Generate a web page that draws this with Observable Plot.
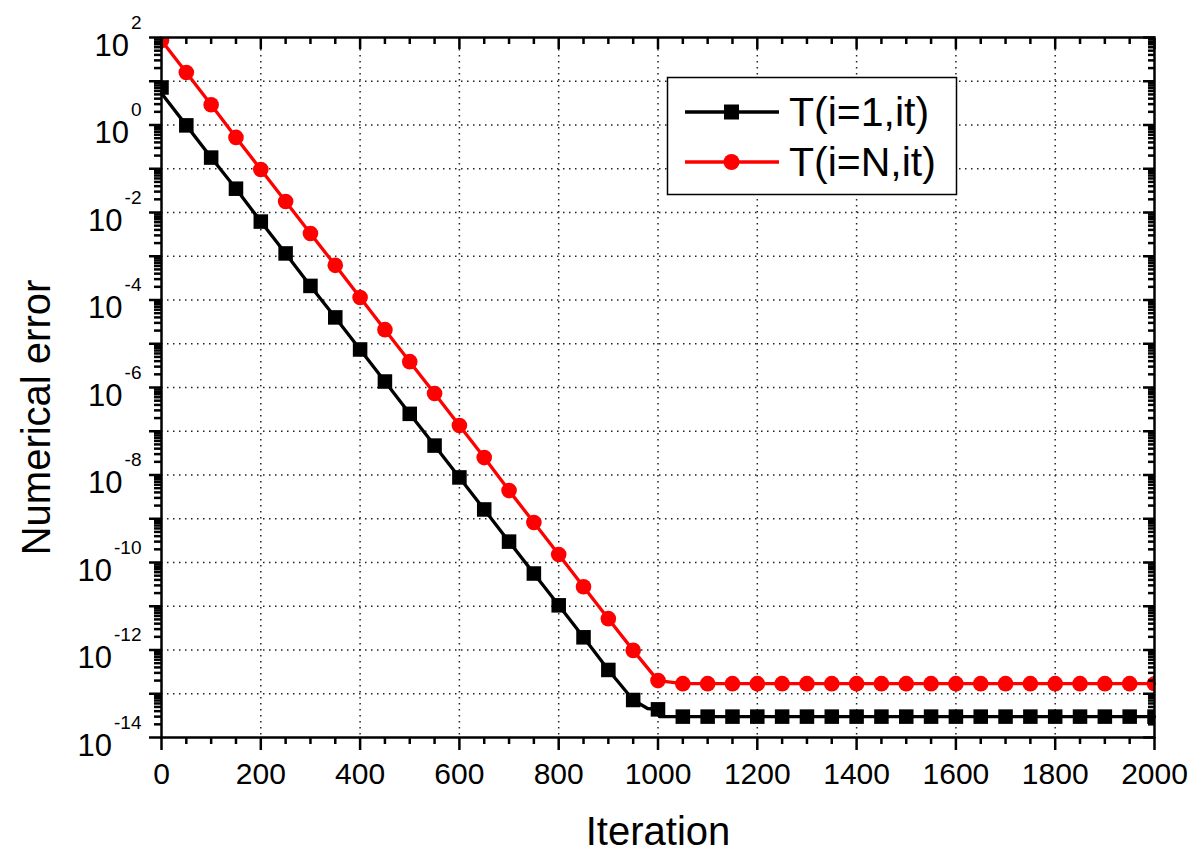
<!DOCTYPE html>
<html><head><meta charset="utf-8">
<script src="https://cdn.jsdelivr.net/npm/d3@7"></script>
<script src="https://cdn.jsdelivr.net/npm/@observablehq/plot@0.6"></script>
<style>
html,body{margin:0;padding:0;background:#fff;overflow:hidden}
#wrap{position:relative;width:1199px;height:851px}
#overlay{position:absolute;left:0;top:0;pointer-events:none}
</style></head><body><div id="wrap"></div>
<script>
// ---- data ----
const iterations = [0,50,100,150,200,250,300,350,400,450,500,550,600,650,700,750,800,850,900,950,1000,
  1050,1100,1150,1200,1250,1300,1350,1400,1450,1500,1550,1600,1650,1700,1750,1800,1850,1900,1950,2000];
const seriesNames = ["T(i=1,it)", "T(i=N,it)"];
const errorI1 = [7.2, 9.8e-1, 1.8e-1, 3.5e-2, 6.2e-3, 1.16e-3, 2.1e-4, 4.0e-5, 7.4e-6, 1.37e-6, 2.5e-7,
  4.7e-8, 8.8e-9, 1.63e-9, 3.0e-10, 5.6e-11, 1.05e-11, 1.95e-12, 3.5e-13, 7.2e-14, 4.4e-14,
  3.0e-14, 3.0e-14, 3.0e-14, 3.0e-14, 3.0e-14, 3.0e-14, 3.0e-14, 3.0e-14, 3.0e-14, 3.0e-14,
  3.0e-14, 3.0e-14, 3.0e-14, 3.0e-14, 3.0e-14, 3.0e-14, 3.0e-14, 3.0e-14, 3.0e-14, 3.0e-14];
const errorIN = [85, 15.8, 2.9, 5.2e-1, 9.6e-2, 1.78e-2, 3.3e-3, 6.2e-4, 1.14e-4, 2.1e-5, 3.9e-6,
  7.3e-7, 1.35e-7, 2.5e-8, 4.4e-9, 8.2e-10, 1.52e-10, 2.8e-11, 5.2e-12, 9.8e-13, 2.0e-13,
  1.7e-13, 1.7e-13, 1.7e-13, 1.7e-13, 1.7e-13, 1.7e-13, 1.7e-13, 1.7e-13, 1.7e-13, 1.7e-13,
  1.7e-13, 1.7e-13, 1.7e-13, 1.7e-13, 1.7e-13, 1.7e-13, 1.7e-13, 1.7e-13, 1.7e-13, 1.7e-13];
// extra line-only samples of T(i=1,it) (start and knee of the curve)
const extraLineIterations = [0, 979, 1003];
const extraLineErrors = [5.3, 4.6e-14, 3.0e-14];
const xTickLabels = [0,200,400,600,800,1000,1200,1400,1600,1800,2000];
const xMinorTicks = [50,100,150,250,300,350,450,500,550,650,700,750,850,900,950,1050,1100,1150,
  1250,1300,1350,1450,1500,1550,1650,1700,1750,1850,1900,1950];
const yTickExponents = [2,0,-2,-4,-6,-8,-10,-12,-14];
const yDecadeExponents = [2,1,0,-1,-2,-3,-4,-5,-6,-7,-8,-9,-10,-11,-12,-13,-14];
const xAxisTitle = "Iteration";
const yAxisTitle = "Numerical error";

// ---- derived tables ----
const dataI1 = iterations.map((it, i) => ({it, err: errorI1[i]}));
const dataIN = iterations.map((it, i) => ({it, err: errorIN[i]}));
const lineI1 = dataI1.filter(d => d.it !== 0)
  .concat(extraLineIterations.map((it, i) => ({it, err: extraLineErrors[i]})))
  .sort((a, b) => a.it - b.it);
const decades = yDecadeExponents.map(e => 10 ** e);
const minorY = [];
for (const e of yDecadeExponents) if (e < 2) for (let m = 2; m <= 9; m++) minorY.push(m * 10 ** e);
const gridXv = xTickLabels.filter(v => v > 0 && v < 2000);
const gridYv = yDecadeExponents.filter(e => e > -14 && e < 2).map(e => 10 ** e);

const FONT = "'Liberation Sans', Arial, Helvetica, sans-serif";
const gridStyle = {stroke: "#222", strokeOpacity: 1, strokeWidth: 1.5, strokeDasharray: "1.5,4.5"};
const tk = {stroke: "#000", strokeWidth: 2.5, tickFormat: () => "", label: null};

const chart = Plot.plot({
  width: 1199, height: 851,
  marginLeft: 161, marginRight: 45, marginTop: 37, marginBottom: 114,
  style: {fontFamily: FONT, fontSize: "30px", background: "#fff", color: "#000", overflow: "visible"},
  x: {domain: [0, 2000], label: null},
  y: {type: "log", domain: [1e-14, 1e2], label: null},
  marks: [
    Plot.gridX(gridXv, gridStyle),
    Plot.gridY(gridYv, gridStyle),
    Plot.line(lineI1, {x: "it", y: "err", stroke: "#000", strokeWidth: 3.3}),
    Plot.line(dataIN, {x: "it", y: "err", stroke: "#ff0000", strokeWidth: 3.3}),
    Plot.dot(dataI1, {x: "it", y: "err", symbol: "square", r: 8.2, fill: "#000", stroke: "none", clip: true}),
    Plot.dot(dataIN, {x: "it", y: "err", symbol: "circle", r: 7.8, fill: "#ff0000", stroke: "none", clip: true}),
    Plot.frame({stroke: "#000", strokeWidth: 2.5}),
    // bottom axis (outward)
    Plot.axisX(xTickLabels, {tickSize: 13, strokeWidth: 2.5, tickPadding: 12, fontSize: 30, label: null, tickFormat: d => String(d)}),
    Plot.axisX(xMinorTicks, {...tk, tickSize: 7}),
    // top axis (inward)
    Plot.axisX(xTickLabels, {...tk, anchor: "top", tickSize: 11, dy: 11}),
    Plot.axisX(xMinorTicks, {...tk, anchor: "top", tickSize: 6, dy: 6}),
    // left axis (outward)
    Plot.axisY(decades, {...tk, tickSize: 12}),
    Plot.axisY(minorY, {...tk, tickSize: 7}),
    // right axis (inward)
    Plot.axisY(decades, {...tk, anchor: "right", tickSize: 12, dx: -12}),
    Plot.axisY(minorY, {...tk, anchor: "right", tickSize: 7, dx: -7}),
    // y tick labels 10^e
    Plot.text(yTickExponents, {y: e => 10 ** e, frameAnchor: "left", text: () => "10",
      textAnchor: "end", dx: -20, dy: 8.5, fontSize: 31, fill: "#000", ariaLabel: e => "ytick " + e}),
    // axis titles
    Plot.text([xAxisTitle], {frameAnchor: "bottom", text: d => d, textAnchor: "middle", dy: 107, fontSize: 40, fill: "#000"}),
    Plot.text([yAxisTitle], {frameAnchor: "left", text: d => d, textAnchor: "middle", rotate: -90, dx: -124, dy: 30, fontSize: 40, fill: "#000"})
  ]
});

// superscript exponents on y tick labels
chart.querySelectorAll('text[aria-label^="ytick"]').forEach(t => {
  const e = t.getAttribute("aria-label").split(" ")[1];
  const ts = document.createElementNS("http://www.w3.org/2000/svg", "tspan");
  ts.setAttribute("font-size", "19");
  ts.setAttribute("dy", "-27");
  ts.setAttribute("dx", "2");
  ts.textContent = e;
  t.appendChild(ts);
});

const wrap = document.getElementById("wrap");
wrap.appendChild(chart);

// legend (inside the plot area, top right)
const ov = d3.select(wrap).append("svg").attr("id", "overlay").attr("width", 1199).attr("height", 851);
const lg = ov.append("g").attr("font-family", FONT);
lg.append("rect").attr("x", 667.5).attr("y", 77.5).attr("width", 289).attr("height", 117)
  .attr("fill", "#fff").attr("stroke", "#000").attr("stroke-width", 1.5);
const legendItems = [
  {name: seriesNames[0], color: "#000", sym: "square"},
  {name: seriesNames[1], color: "#ff0000", sym: "circle"}
];
legendItems.forEach((it, i) => {
  const cy = 112 + i * 50;
  lg.append("line").attr("x1", 685).attr("x2", 779).attr("y1", cy).attr("y2", cy)
    .attr("stroke", it.color).attr("stroke-width", 3.3);
  if (it.sym === "square") lg.append("rect").attr("x", 731.5 - 7.5).attr("y", cy - 7.5).attr("width", 15).attr("height", 15).attr("fill", it.color);
  else lg.append("circle").attr("cx", 731.5).attr("cy", cy).attr("r", 8).attr("fill", it.color);
  lg.append("text").attr("x", 789).attr("y", cy + 13.5).attr("font-size", 41).attr("fill", "#000").text(it.name);
});
</script></body></html>
